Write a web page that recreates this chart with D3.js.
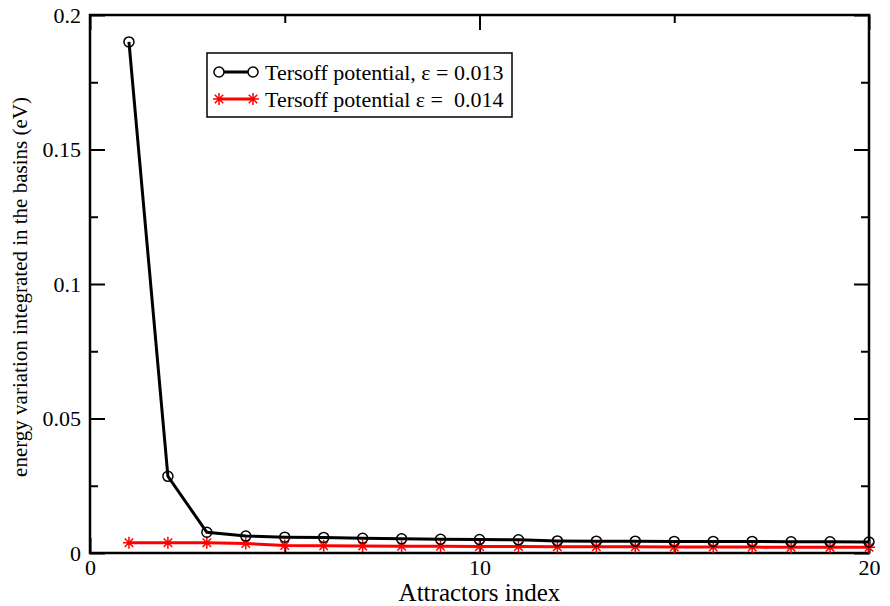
<!DOCTYPE html>
<html>
<head>
<meta charset="utf-8">
<script src="https://cdn.jsdelivr.net/npm/d3@7"></script>
<style>
  body { margin: 0; background: #fff; }
  svg text { font-family: "Liberation Serif", "Times New Roman", Times, "DejaVu Serif", serif !important; white-space: pre; }
</style>
</head>
<body>
<div id="wrapper"></div>
<script>
// 1. Data
const attractorIndex = d3.range(1, 21)
const tersoff013 = [0.190, 0.0285, 0.0077, 0.0063, 0.0059, 0.0058, 0.0055, 0.0053, 0.0051, 0.0050,
  0.0049, 0.0045, 0.0044, 0.0044, 0.0043, 0.0043, 0.0043, 0.0042, 0.0042, 0.0041]
const tersoff014 = [0.0038, 0.0038, 0.0038, 0.0035, 0.0028, 0.0027, 0.0026, 0.0025, 0.0025, 0.0024,
  0.0024, 0.0023, 0.0023, 0.0023, 0.0022, 0.0022, 0.0022, 0.0021, 0.0021, 0.0021]
const xTicks = [0, 10, 20]
const xMinorTicks = [5, 15]
const yTicks = [0, 0.05, 0.1, 0.15, 0.2]
const yMinorTicks = [0.025, 0.075, 0.125, 0.175]
const seriesLabels = ["Tersoff potential, \u03b5 = 0.013", "Tersoff potential \u03b5 =  0.014"]

const serif = "'Liberation Serif', 'Times New Roman', Times, serif"

// 2. Dimensions
const dimensions = {
  width: 890,
  height: 606,
  margin: { top: 15, right: 21, bottom: 53, left: 90 },
}
dimensions.boundedWidth = dimensions.width - dimensions.margin.left - dimensions.margin.right
dimensions.boundedHeight = dimensions.height - dimensions.margin.top - dimensions.margin.bottom

// 3. Canvas
const svg = d3.select("#wrapper").append("svg")
  .attr("width", dimensions.width)
  .attr("height", dimensions.height)
  .attr("font-family", serif)
const bounds = svg.append("g")
  .attr("transform", `translate(${dimensions.margin.left},${dimensions.margin.top})`)

// 4. Scales
const x = d3.scaleLinear().domain([0, 20]).range([0, dimensions.boundedWidth])
const y = d3.scaleLinear().domain([0, 0.2]).range([dimensions.boundedHeight, 0])

// 5. Axes (ticks inside, mirrored)
const fmt = d => d === 0 ? "0" : d3.format("")(+d.toFixed(3))
const axisStyle = g => {
  g.attr("font-family", serif)
  g.select(".domain").remove()
  g.selectAll("line").attr("stroke", "#000").attr("stroke-width", 2)
  g.selectAll("text").attr("font-size", 22).attr("fill", "#000").attr("font-family", serif)
}
bounds.append("g").attr("transform", `translate(0,${dimensions.boundedHeight})`)
  .call(d3.axisBottom(x).tickValues(xTicks).tickSize(-15).tickPadding(6).tickFormat(fmt))
  .call(axisStyle)
bounds.append("g").attr("transform", `translate(0,${dimensions.boundedHeight})`)
  .call(d3.axisBottom(x).tickValues(xMinorTicks).tickSize(-8).tickFormat(""))
  .call(axisStyle)
bounds.append("g")
  .call(d3.axisTop(x).tickValues(xTicks).tickSize(-15).tickFormat(""))
  .call(axisStyle)
bounds.append("g")
  .call(d3.axisTop(x).tickValues(xMinorTicks).tickSize(-8).tickFormat(""))
  .call(axisStyle)
bounds.append("g")
  .call(d3.axisLeft(y).tickValues(yTicks).tickSize(-15).tickPadding(9).tickFormat(fmt))
  .call(axisStyle)
bounds.append("g")
  .call(d3.axisLeft(y).tickValues(yMinorTicks).tickSize(-8).tickFormat(""))
  .call(axisStyle)
bounds.append("g").attr("transform", `translate(${dimensions.boundedWidth},0)`)
  .call(d3.axisRight(y).tickValues(yTicks).tickSize(-15).tickFormat(""))
  .call(axisStyle)
bounds.append("g").attr("transform", `translate(${dimensions.boundedWidth},0)`)
  .call(d3.axisRight(y).tickValues(yMinorTicks).tickSize(-8).tickFormat(""))
  .call(axisStyle)

// frame
bounds.append("rect")
  .attr("width", dimensions.boundedWidth)
  .attr("height", dimensions.boundedHeight)
  .attr("fill", "none")
  .attr("stroke", "#000")
  .attr("stroke-width", 2.5)

// 6. Lines
const line = d3.line().x((d, i) => x(attractorIndex[i])).y(d => y(d))

const starPath = r => {
  let p = ""
  for (let k = 0; k < 4; k++) {
    const a = k * Math.PI / 4
    const dx = r * Math.cos(a), dy = r * Math.sin(a)
    p += `M${-dx},${-dy}L${dx},${dy}`
  }
  return p
}

bounds.append("path")
  .datum(tersoff014)
  .attr("d", line)
  .attr("fill", "none")
  .attr("stroke", "#ff0000")
  .attr("stroke-width", 3)
bounds.append("g").selectAll("path")
  .data(tersoff014)
  .join("path")
  .attr("transform", (d, i) => `translate(${x(attractorIndex[i])},${y(d)})`)
  .attr("d", starPath(6))
  .attr("stroke", "#ff0000")
  .attr("stroke-width", 1.5)

bounds.append("path")
  .datum(tersoff013)
  .attr("d", line)
  .attr("fill", "none")
  .attr("stroke", "#000")
  .attr("stroke-width", 3)
bounds.append("g").selectAll("circle")
  .data(tersoff013)
  .join("circle")
  .attr("cx", (d, i) => x(attractorIndex[i]))
  .attr("cy", d => y(d))
  .attr("r", 5)
  .attr("fill", "none")
  .attr("stroke", "#000")
  .attr("stroke-width", 1.5)

// 7. Axis labels
svg.append("text")
  .attr("x", dimensions.margin.left + dimensions.boundedWidth / 2)
  .attr("y", 601)
  .attr("text-anchor", "middle")
  .attr("font-size", 25)
  .text("Attractors index")
svg.append("text")
  .attr("transform", `translate(27,${dimensions.margin.top + dimensions.boundedHeight / 2 + 3}) rotate(-90)`)
  .attr("text-anchor", "middle")
  .attr("font-size", 21)
  .text("energy variation integrated in the basins (eV)")

// 8. Legend
const legend = svg.append("g").attr("transform", "translate(207,53)")
legend.append("rect")
  .attr("width", 305)
  .attr("height", 64)
  .attr("fill", "#fff")
  .attr("stroke", "#000")
  .attr("stroke-width", 1.5)
const rows = legend.selectAll("g.row")
  .data(seriesLabels)
  .join("g")
  .attr("class", "row")
  .attr("transform", (d, i) => `translate(0,${19 + i * 27})`)
rows.append("line")
  .attr("x1", 12).attr("x2", 46)
  .attr("stroke", (d, i) => i === 0 ? "#000" : "#ff0000")
  .attr("stroke-width", 3)
rows.filter((d, i) => i === 0).selectAll("circle")
  .data([12, 46])
  .join("circle")
  .attr("cx", d => d)
  .attr("r", 5)
  .attr("fill", "#fff")
  .attr("stroke", "#000")
  .attr("stroke-width", 1.5)
rows.filter((d, i) => i === 1).selectAll("path")
  .data([12, 46])
  .join("path")
  .attr("transform", d => `translate(${d},0)`)
  .attr("d", starPath(6))
  .attr("stroke", "#ff0000")
  .attr("stroke-width", 1.5)
rows.append("text")
  .attr("x", 58)
  .attr("dy", "0.35em")
  .attr("font-size", 22)
  .text(d => d)
</script>
</body>
</html>
